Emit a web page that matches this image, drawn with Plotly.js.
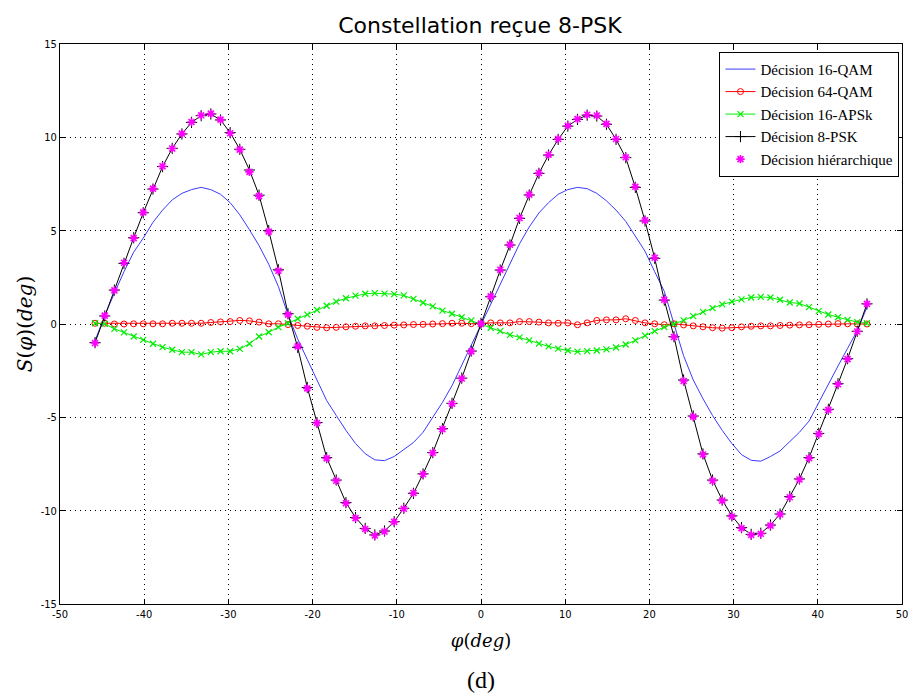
<!DOCTYPE html>
<html>
<head>
<meta charset="utf-8">
<script src="https://cdn.plot.ly/plotly-3.0.1.min.js"></script>
<style>
html,body{margin:0;padding:0;background:#fff;}
#chart{width:909px;height:695px;}
</style>
</head>
<body>
<div id="chart"></div>
<script>
// phase error phi (degrees)
const phiDeg = [
 -45.84,-44.69,-43.54,-42.40,-41.25,-40.11,-38.96,-37.82,-36.67,-35.52,
 -34.38,-33.23,-32.09,-30.94,-29.79,-28.65,-27.50,-26.36,-25.21,-24.06,
 -22.92,-21.77,-20.63,-19.48,-18.33,-17.19,-16.04,-14.90,-13.75,-12.61,
 -11.46,-10.31,-9.17,-8.02,-6.88,-5.73,-4.58,-3.44,-2.29,-1.15,
 0,
 1.15,2.29,3.44,4.58,5.73,6.88,8.02,9.17,10.31,11.46,
 12.61,13.75,14.90,16.04,17.19,18.33,19.48,20.63,21.77,22.92,
 24.06,25.21,26.36,27.50,28.65,29.79,30.94,32.09,33.23,34.38,
 35.52,36.67,37.82,38.96,40.11,41.25,42.40,43.54,44.69,45.84
];

const s16QAM = [
 -0.90,0.45,1.65,2.80,3.85,4.60,5.45,6.10,6.65,7.00,
 7.20,7.32,7.20,6.95,6.50,5.85,5.05,4.20,3.20,2.00,
 0.50,-0.80,-1.90,-3.00,-4.10,-4.90,-5.70,-6.40,-6.95,-7.28,
 -7.32,-7.10,-6.75,-6.35,-5.80,-5.00,-4.20,-3.30,-2.20,-1.10,
 0.00,
 1.10,2.20,3.30,4.30,5.20,5.95,6.50,6.95,7.20,7.32,
 7.25,7.00,6.60,6.10,5.50,4.70,3.90,2.80,1.75,0.00,
 -1.70,-3.00,-4.00,-4.90,-5.70,-6.40,-7.00,-7.30,-7.35,-7.10,
 -6.80,-6.30,-5.80,-5.20,-4.20,-3.20,-2.25,-1.30,-0.35,0.90
];

const s64QAM = [
 0.04,0.04,0.00,0.00,0.01,0.01,0.01,0.01,0.04,0.04,
 0.04,0.04,0.08,0.11,0.13,0.19,0.17,0.10,0.01,0.01,
 -0.03,-0.08,-0.12,-0.18,-0.20,-0.18,-0.15,-0.12,-0.10,-0.10,
 -0.08,-0.06,-0.05,-0.03,-0.02,0.00,0.02,0.04,0.04,0.02,
 0.01,
 0.06,0.06,0.06,0.13,0.13,0.10,0.06,0.04,0.06,-0.04,
 0.06,0.19,0.22,0.22,0.28,0.19,0.06,0.01,-0.04,0.01,
 -0.05,-0.10,-0.15,-0.20,-0.22,-0.20,-0.15,-0.12,-0.10,-0.10,
 -0.08,-0.06,-0.05,-0.04,-0.02,0.00,0.02,0.01,0.00,0.00
];

const s16APSK = [
 0.04,0.01,-0.26,-0.45,-0.67,-0.85,-1.06,-1.24,-1.38,-1.51,
 -1.51,-1.63,-1.51,-1.46,-1.46,-1.33,-1.06,-0.67,-0.44,-0.17,
 0.04,0.28,0.50,0.75,0.98,1.20,1.38,1.52,1.62,1.65,
 1.63,1.60,1.53,1.35,1.14,0.94,0.72,0.55,0.36,0.19,
 0.00,
 -0.20,-0.38,-0.58,-0.72,-0.88,-1.05,-1.20,-1.32,-1.42,-1.48,
 -1.45,-1.42,-1.36,-1.26,-1.10,-0.88,-0.62,-0.38,-0.17,0.00,
 0.19,0.42,0.65,0.85,1.05,1.20,1.32,1.42,1.45,1.42,
 1.30,1.15,1.10,0.90,0.69,0.51,0.36,0.22,0.10,0.04
];

const s8PSK = [
 -1.00,0.43,1.82,3.25,4.62,5.96,7.23,8.43,9.41,10.18,
 10.80,11.16,11.25,10.93,10.25,9.36,8.25,6.90,5.00,2.90,
 0.55,-1.25,-3.40,-5.28,-7.16,-8.36,-9.57,-10.37,-10.95,-11.30,
 -11.09,-10.59,-9.87,-9.07,-8.03,-6.89,-5.61,-4.25,-2.90,-1.45,
 0.04,
 1.46,2.89,4.23,5.66,6.91,8.07,9.05,9.89,10.60,10.96,
 11.19,11.14,10.70,9.89,8.91,7.32,5.52,3.52,1.28,-0.68,
 -3.00,-4.93,-6.96,-8.36,-9.43,-10.28,-10.91,-11.27,-11.21,-10.77,
 -10.18,-9.25,-8.30,-7.16,-5.86,-4.57,-3.20,-1.86,-0.39,1.08
];

const sHier = [
 -1.02,0.45,1.80,3.28,4.60,5.98,7.25,8.45,9.40,10.20,
 10.82,11.18,11.27,10.95,10.22,9.34,8.15,6.85,4.95,2.85,
 0.50,-1.20,-3.45,-5.30,-7.20,-8.40,-9.60,-10.40,-10.98,-11.33,
 -11.12,-10.60,-9.90,-9.05,-8.05,-6.90,-5.63,-4.27,-2.92,-1.47,
 0.02,
 1.48,2.91,4.25,5.68,6.93,8.09,9.07,9.91,10.62,10.98,
 11.21,11.17,10.72,9.91,8.93,7.35,5.55,3.55,1.30,-0.70,
 -3.05,-4.96,-6.99,-8.40,-9.46,-10.31,-10.94,-11.30,-11.24,-10.80,
 -10.20,-9.28,-8.33,-7.19,-5.89,-4.60,-3.23,-1.88,-0.40,1.08
];

const seriesNames = ["Décision 16-QAM","Décision 64-QAM","Décision 16-APSk","Décision 8-PSK","Décision hiérarchique"];
const xTickVals = [-50,-40,-30,-20,-10,0,10,20,30,40,50];
const xTickText = ["-50","-40","-30","-20","-10","0","10","20","30","40","50"];
const yTickVals = [-15,-10,-5,0,5,10,15];
const yTickText = ["-15","-10","-5","0","5","10","15"];

const traces = [
  {x: phiDeg, y: s16QAM, name: seriesNames[0], type: 'scatter', mode: 'lines',
   line: {color: '#3a3aff', width: 1}},
  {x: phiDeg, y: s64QAM, name: seriesNames[1], type: 'scatter', mode: 'lines+markers',
   line: {color: '#ff0000', width: 1},
   marker: {symbol: 'circle-open', size: 6, color: '#ff0000', line: {width: 1, color: '#ff0000'}}},
  {x: phiDeg, y: s16APSK, name: seriesNames[2], type: 'scatter', mode: 'lines+markers',
   line: {color: '#00ee00', width: 1},
   marker: {symbol: 'x-thin-open', size: 6, color: '#00ee00', line: {width: 1.2, color: '#00ee00'}}},
  {x: phiDeg, y: s8PSK, name: seriesNames[3], type: 'scatter', mode: 'lines+markers',
   line: {color: '#000000', width: 1},
   marker: {symbol: 'cross-thin-open', size: 8, color: '#000000', line: {width: 1, color: '#000000'}}},
  {x: phiDeg, y: sHier, name: seriesNames[4], type: 'scatter', mode: 'markers',
   marker: {symbol: 'asterisk-open', size: 7, color: '#ff00ff', line: {width: 1.6, color: '#ff00ff'}}}
];

const tickFont = {family: '"Liberation Sans Narrow", "DejaVu Sans Condensed", Arial, sans-serif', size: 11, color: '#000'};

const layout = {
  width: 909, height: 695,
  margin: {l: 60, r: 7, t: 44, b: 91},
  paper_bgcolor: '#fff', plot_bgcolor: '#fff',
  showlegend: true,
  title: {text: 'Constellation reçue 8-PSK', x: 0.528, xanchor: 'center', y: 0.963, yanchor: 'middle',
          font: {family: '"DejaVu Sans", sans-serif', size: 22, color: '#000'}},
  xaxis: {
    range: [-50, 50], tickmode: 'array', tickvals: xTickVals, ticktext: xTickText,
    ticks: 'inside', ticklen: 5, tickcolor: '#000', mirror: 'allticks',
    showline: true, linecolor: '#000', linewidth: 1,
    showgrid: true, gridcolor: '#000', griddash: '1px,4px', gridwidth: 1,
    zeroline: false, tickfont: tickFont,
    title: {text: '<i>φ</i>(<i>deg</i>)', standoff: 14,
            font: {family: '"DejaVu Serif", "Liberation Serif", serif', size: 18, color: '#000'}}
  },
  yaxis: {
    range: [-15, 15], tickmode: 'array', tickvals: yTickVals, ticktext: yTickText,
    ticks: 'inside', ticklen: 5, tickcolor: '#000', mirror: 'allticks',
    showline: true, linecolor: '#000', linewidth: 1,
    showgrid: true, gridcolor: '#000', griddash: '1px,4px', gridwidth: 1,
    zeroline: false, tickfont: tickFont,
    title: {text: '<i>S</i>(<i>φ</i>)(<i>deg</i>)', standoff: 2,
            font: {family: '"DejaVu Serif", "Liberation Serif", serif', size: 20, color: '#000'}}
  },
  legend: {
    x: 0.997, xanchor: 'right', y: 0.986, yanchor: 'top',
    bgcolor: '#fff', bordercolor: '#000', borderwidth: 1,
    font: {family: '"Liberation Serif", "Times New Roman", serif', size: 15, color: '#000'},
    itemwidth: 30
  },
  annotations: [
    {text: '(d)', xref: 'paper', yref: 'paper', x: 0.5, y: -0.136, xanchor: 'center', yanchor: 'middle',
     showarrow: false, font: {family: '"Liberation Serif", "DejaVu Serif", serif', size: 24, color: '#000'}}
  ]
};

Plotly.newPlot('chart', traces, layout, {displayModeBar: false, staticPlot: true});
</script>
</body>
</html>
